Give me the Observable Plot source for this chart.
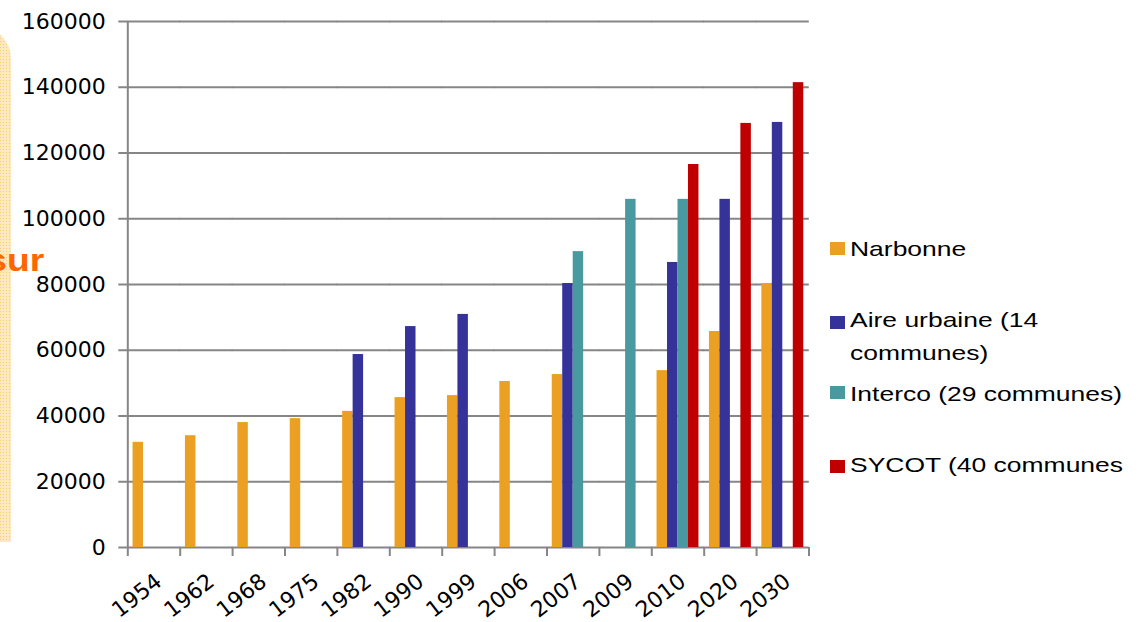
<!DOCTYPE html>
<html>
<head>
<meta charset="utf-8">
<script src="https://cdn.jsdelivr.net/npm/d3@7"></script>
<script src="https://cdn.jsdelivr.net/npm/@observablehq/plot@0.6"></script>
<style>
  html, body { margin: 0; padding: 0; background: #fff; }
  #wrap { position: relative; width: 1144px; height: 622px; overflow: hidden; background: #fff; }
  #deco { position: absolute; left: -40px; top: 28px; width: 51px; height: 514px; border-radius: 0 30px 0 0;
          background-color: #fde9bd; background-image: radial-gradient(#f8cd72 0.8px, transparent 0.9px);
          background-size: 3px 3px; z-index: 0; }
  #sur { position: absolute; right: 1100px; top: 246px; font: bold 31px "Liberation Sans", Arial, sans-serif;
         line-height: 30px; color: #ff6600; transform: scaleX(1.2); transform-origin: right center; z-index: 0; white-space: nowrap; }
  #chart { position: absolute; left: 0; top: 0; z-index: 1; }
  .lg-sq { position: absolute; left: 830px; width: 15px; height: 13px; z-index: 2; }
  .lg-tx { position: absolute; left: 850px; font: 21px "Liberation Sans", Arial, sans-serif; line-height: 21px;
           color: #000; transform: scaleX(1.26); transform-origin: left center; white-space: nowrap; z-index: 2; }
</style>
</head>
<body>
<div id="wrap">
  <div id="deco"></div>
  <div id="sur">sur</div>
  <div id="chart"></div>
  <div id="legend"></div>
</div>
<script>
// ---- data ----
const years = ["1954","1962","1968","1975","1982","1990","1999","2006","2007","2009","2010","2020","2030"];
const seriesNames = ["Narbonne", "Aire urbaine (14 communes)", "Interco (29 communes)", "SYCOT (40 communes)"];
const narbonne    = [32000, 34000, 38000, 39200, 41400, 45600, 46200, 50500, 52600, null, 53800, 65700, 80300];
const aireUrbaine = [null, null, null, null, 58700, 67200, 70900, null, 80300, null, 86700, 105900, 129300];
const interco     = [null, null, null, null, null, null, null, null, 90000, 105900, 105900, null, null];
const sycot       = [null, null, null, null, null, null, null, null, null, null, 116500, 129000, 141400];
const colors = ["#EBA023", "#35339A", "#4899A0", "#C00000"];
const yTicks = [0, 20000, 40000, 60000, 80000, 100000, 120000, 140000, 160000];
const legendLines = [
  ["Narbonne"],
  ["Aire urbaine (14", "communes)"],
  ["Interco (29 communes)"],
  ["SYCOT (40 communes"]
];

// ---- table for Plot ----
const seriesValues = [narbonne, aireUrbaine, interco, sycot];
const table = [];
seriesValues.forEach((vals, si) => {
  vals.forEach((v, yi) => {
    if (v != null) table.push({year: years[yi], series: seriesNames[si], value: v});
  });
});

const W = 1144, H = 622;
const mL = 127.3, mR = 335.5, mT = 21, mB = 75;
const step = (W - mL - mR) / years.length;
const subBand = step * 0.8 / seriesNames.length;   // width of one bar
const halfGap = step * 0.1;
const gray = "#868686";

const boundaryLeft = years.map(y => ({year: y, series: seriesNames[0]}));
const boundaryRight = [{year: years[years.length - 1], series: seriesNames[seriesNames.length - 1]}];

const chart = Plot.plot({
  width: W, height: H,
  marginTop: mT, marginBottom: mB, marginLeft: mL, marginRight: mR,
  style: {background: "transparent", fontFamily: "DejaVu Sans, sans-serif", fontSize: "22px", color: "#000", overflow: "visible"},
  fx: {domain: years, paddingInner: 0.2, paddingOuter: 0.1, round: false, label: null},
  x: {domain: seriesNames, padding: 0, round: false, axis: null},
  y: {domain: [0, 160000], axis: null},
  color: {domain: seriesNames, range: colors},
  marks: [
    Plot.ruleY(yTicks, {stroke: gray, strokeWidth: 2, insetLeft: -halfGap - 0.3, insetRight: -halfGap - 0.3}),
    Plot.barY(table, {fx: "year", x: "series", y: "value", fill: "series"}),
    Plot.ruleX(boundaryLeft.slice(0, 1), {fx: "year", x: "series", dx: -subBand, stroke: gray, strokeWidth: 2}),
    Plot.ruleX(boundaryLeft, {fx: "year", x: "series", dx: -subBand, y1: 0, y2: 0, insetBottom: -9, stroke: gray, strokeWidth: 2}),
    Plot.ruleX(boundaryRight, {fx: "year", x: "series", dx: subBand, y1: 0, y2: 0, insetBottom: -9, stroke: gray, strokeWidth: 2}),
    Plot.axisY({ticks: yTicks, tickFormat: d3.format("d"), tickSize: 9, tickPadding: 13, dx: -halfGap,
                stroke: gray, strokeWidth: 2, strokeOpacity: 1, fill: "#000", fontSize: 22, label: null}),
    Plot.axisFx({anchor: "bottom", tickSize: 0, tickPadding: 31, tickRotate: -38, dx: 5,
                 fill: "#000", fontSize: 22, label: null})
  ]
});
document.getElementById("chart").appendChild(chart);

// ---- legend ----
const legend = document.getElementById("legend");
const sqTops = [242, 316, 386, 460];
const txTops = [[238], [309, 342], [383], [454]];
legendLines.forEach((lines, i) => {
  const sq = document.createElement("div");
  sq.className = "lg-sq";
  sq.style.top = sqTops[i] + "px";
  sq.style.background = colors[i];
  legend.appendChild(sq);
  lines.forEach((t, j) => {
    const tx = document.createElement("div");
    tx.className = "lg-tx";
    tx.style.top = txTops[i][j] + "px";
    tx.textContent = t;
    legend.appendChild(tx);
  });
});
</script>
</body>
</html>
